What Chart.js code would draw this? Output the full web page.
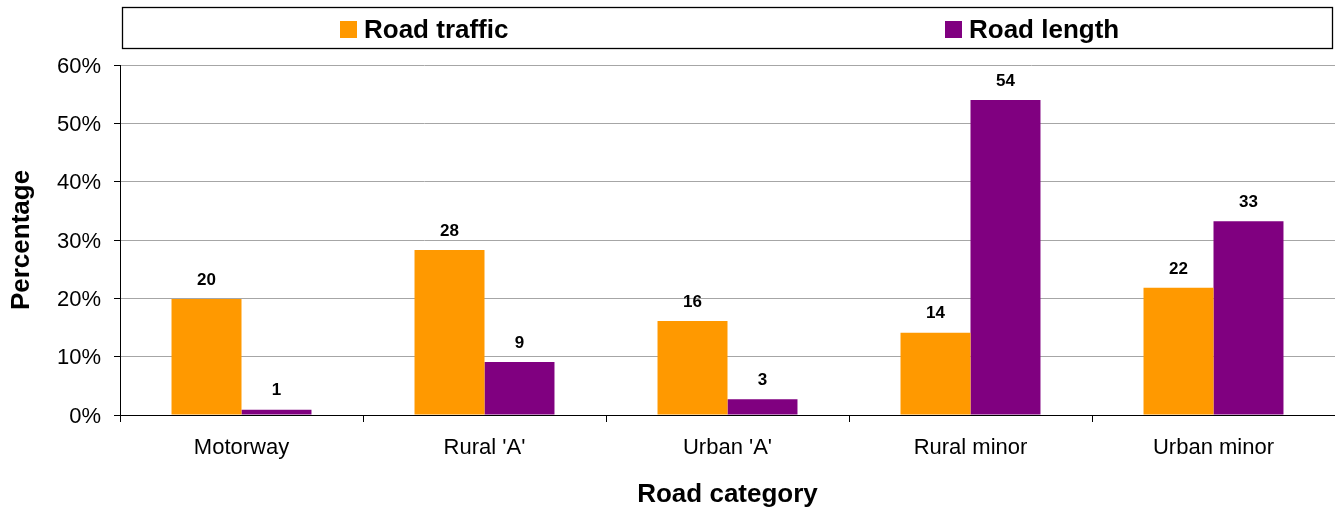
<!DOCTYPE html>
<html>
<head>
<meta charset="utf-8">
<script src="https://cdn.jsdelivr.net/npm/chart.js@4/dist/chart.umd.min.js"></script>
<style>
html,body{margin:0;padding:0;background:#fff;}
#wrap{width:1335px;height:508px;position:relative;}
</style>
</head>
<body>
<div id="wrap"><canvas id="c" width="1335" height="508"></canvas></div>
<script>
const categories = ["Motorway", "Rural 'A'", "Urban 'A'", "Rural minor", "Urban minor"];
const roadTraffic = [19.9, 28.3, 16.1, 14.1, 21.8];
const roadLength = [0.9, 9.1, 2.7, 54.0, 33.2];
const seriesNames = ["Road traffic", "Road length"];
const yTicks = [0, 10, 20, 30, 40, 50, 60];

const FONT = "'Liberation Sans', Arial, sans-serif";

const customPlugin = {
  id: 'customDraw',
  afterDatasetsDraw(chart) {
    const ctx = chart.ctx;
    // data labels
    ctx.save();
    ctx.font = "bold 17px " + FONT;
    ctx.fillStyle = '#000';
    ctx.textAlign = 'center';
    ctx.textBaseline = 'middle';
    chart.data.datasets.forEach((ds, di) => {
      const meta = chart.getDatasetMeta(di);
      meta.data.forEach((bar, i) => {
        ctx.fillText(String(Math.round(ds.data[i])), bar.x, bar.y - 19);
      });
    });
    ctx.restore();
    // legend box
    ctx.save();
    ctx.strokeStyle = '#000';
    ctx.lineWidth = 1.3;
    ctx.strokeRect(122.5, 7.5, 1210, 41);
    ctx.font = "bold 26px " + FONT;
    ctx.textBaseline = 'middle';
    ctx.textAlign = 'left';
    const starts = [340, 945];
    chart.data.datasets.forEach((ds, di) => {
      const x = starts[di];
      ctx.fillStyle = ds.backgroundColor;
      ctx.fillRect(x, 21, 17, 17);
      ctx.fillStyle = '#000';
      ctx.fillText(ds.label, x + 24, 31);
    });
    ctx.restore();
  }
};

new Chart(document.getElementById('c'), {
  type: 'bar',
  data: {
    labels: categories,
    datasets: [
      { label: seriesNames[0], data: roadTraffic, backgroundColor: '#FF9900', barPercentage: 1.0, categoryPercentage: 0.576 },
      { label: seriesNames[1], data: roadLength, backgroundColor: '#800080', barPercentage: 1.0, categoryPercentage: 0.576 }
    ]
  },
  options: {
    responsive: false,
    animation: false,
    devicePixelRatio: 1,
    layout: { padding: { top: 65, right: 0, bottom: 0, left: 0 } },
    plugins: { legend: { display: false }, tooltip: { enabled: false } },
    scales: {
      x: {
        offset: true,
        grid: { offset: true, drawOnChartArea: false, tickLength: 7, tickColor: '#000', color: '#000' },
        border: { color: '#000', width: 1 },
        ticks: { color: '#000', font: { family: FONT, size: 22 }, padding: 13, maxRotation: 0 },
        title: { display: true, text: 'Road category', color: '#000', font: { family: FONT, size: 26, weight: 'bold' }, padding: { top: 0, bottom: -2 } },
        afterFit(s) { s.height = 93; }
      },
      y: {
        min: 0, max: 60,
        afterBuildTicks(s) { s.ticks = yTicks.map(v => ({ value: v })); },
        grid: { color: '#a6a6a6', tickLength: 6, tickColor: '#000', lineWidth: 1 },
        border: { color: '#000', width: 1 },
        ticks: { color: '#000', font: { family: FONT, size: 22 }, padding: 13, labelOffset: 1.5, callback: v => v + '%' },
        title: { display: true, text: 'Percentage', color: '#000', font: { family: FONT, size: 26, weight: 'bold' }, padding: { top: 6, bottom: 0 } },
        afterFit(s) { s.width = 120; }
      }
    }
  },
  plugins: [customPlugin]
});
</script>
</body>
</html>
